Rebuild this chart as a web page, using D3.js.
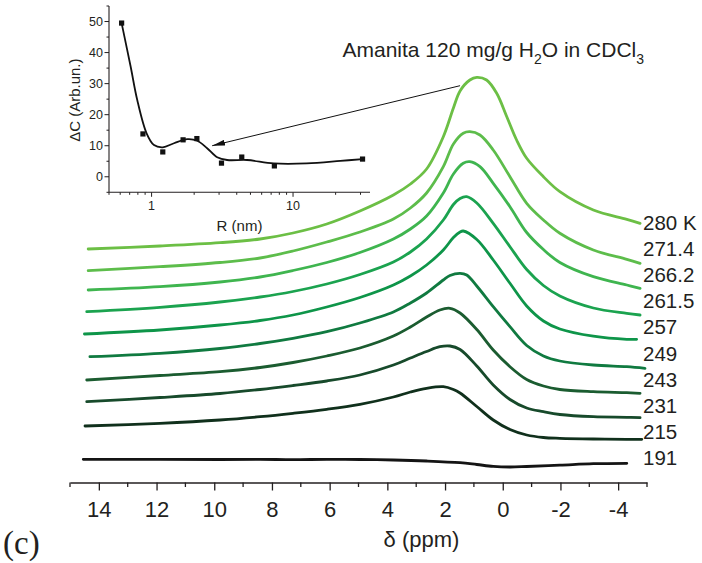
<!DOCTYPE html>
<html>
<head>
<meta charset="utf-8">
<script src="https://cdn.jsdelivr.net/npm/d3@7"></script>
<style>
  html, body { margin: 0; padding: 0; background: #fff; }
  svg { display: block; }
  text { font-family: "Liberation Sans", Arial, Helvetica, sans-serif; fill: #231f20; }
</style>
</head>
<body>
<svg id="chart" width="702" height="563"></svg>
<script>
// ---------------- DATA ----------------
const temperatures = ["280 K", "271.4", "266.2", "261.5", "257", "249", "243", "231", "215", "191"];
const lineColors = ["#6cbf45", "#5dbd4b", "#3fb54f", "#1ba34f", "#0e9549", "#107a40", "#1b5c30", "#174a2b", "#10301c", "#141414"];

// Spectra: [chemical shift (ppm), stacked intensity (arb.)]
const s280 = [[14.37,236],[11.88,239],[9.80,242.3],[8.41,246],[7.27,252],[6.10,261],[4.95,274],[3.79,290],[3.2,301],[2.64,316],[2.06,348.3],[1.71,377],[1.48,394],[1.14,405],[0.90,407.7],[0.56,405],[0.21,391.7],[-0.14,368.3],[-0.48,345],[-0.83,326.7],[-1.41,308.3],[-1.98,293.3],[-3.14,275],[-4.30,265.7],[-4.76,261.7]];
const s271 = [[14.37,214.3],[11.88,218.3],[9.80,222.5],[8.41,227],[7.27,234],[6.10,243],[4.95,253],[3.79,266],[3.2,277],[2.64,292],[2.06,318.3],[1.71,341],[1.37,351.7],[1.14,353.3],[0.79,350],[0.33,335],[-0.25,308.3],[-0.83,281.7],[-1.41,265],[-1.98,251.7],[-3.14,235],[-4.30,225.7],[-4.76,221.7]];
const s266 = [[14.37,195],[11.88,198.3],[9.80,203],[8.41,208],[7.27,214.5],[6.10,222.5],[4.95,232.5],[3.79,246],[3.2,256],[2.64,269],[2.06,292],[1.71,311],[1.37,321.7],[1.14,323.3],[0.79,318.3],[0.33,301.7],[-0.25,278.3],[-0.83,252.5],[-1.41,235.5],[-1.98,222.5],[-3.14,208.3],[-4.30,200],[-4.76,196.7]];
const s261 = [[14.42,173.3],[11.88,177.7],[9.80,183],[8.41,188],[7.27,193.5],[6.10,201],[4.95,210.5],[3.79,223],[3.2,233],[2.64,246],[2.06,265],[1.71,280.5],[1.48,286.5],[1.25,288.3],[0.90,282],[0.33,261.7],[-0.25,238.3],[-0.83,215.5],[-1.41,199.5],[-1.98,189],[-3.14,177],[-4.30,171.7],[-4.76,170]];
const s257 = [[14.50,151],[11.88,155],[9.80,160],[8.41,164.5],[7.27,170],[6.10,178],[4.95,187.5],[3.79,200],[3.2,209],[2.64,220],[2.06,235],[1.71,247.5],[1.48,253],[1.37,254],[0.90,245.5],[0.33,225],[-0.25,201.7],[-0.83,179],[-1.41,164],[-1.98,156],[-3.14,148.8],[-4.30,145.7],[-4.64,145.7]];
const s249 = [[14.31,128.3],[11.88,131.7],[9.80,136.5],[8.41,141.5],[7.27,146.7],[6.10,153.3],[4.95,162],[3.79,173],[3.2,182],[2.64,192],[2.06,205],[1.83,209.5],[1.48,211.7],[1.25,210],[0.90,199],[0.33,178.3],[-0.25,158.3],[-0.83,139.5],[-1.41,129],[-1.98,124],[-3.14,120],[-4.30,118.3],[-4.93,116.7]];
const s243 = [[14.42,105],[11.88,109.5],[9.80,113.3],[8.41,117.5],[7.27,122.5],[6.10,129],[4.95,137],[3.79,149],[3.2,158],[2.64,168],[2.18,175],[1.83,176.7],[1.48,172],[0.90,155.5],[0.33,135],[-0.25,118.3],[-0.83,105.5],[-1.41,99],[-1.98,95.5],[-3.14,93.3],[-4.30,92.3],[-4.76,91.7]];
const s231 = [[14.42,83.3],[11.88,87.5],[9.80,91.5],[8.41,95.5],[7.27,99.5],[6.10,104],[4.95,110],[3.79,120],[3.2,127],[2.64,133.5],[2.18,138.3],[1.83,139],[1.48,135.5],[0.90,119],[0.33,100],[-0.25,85.5],[-0.83,77],[-1.41,73.3],[-1.98,70.5],[-3.14,68.3],[-4.30,67.7],[-4.76,67.3]];
const s215 = [[14.48,59],[11.88,61.7],[9.80,65],[8.41,68.3],[7.27,71.7],[6.10,75.7],[4.95,80.7],[3.79,88],[3.2,93],[2.64,96.7],[2.06,98.3],[1.71,95.5],[1.48,92],[0.90,78.5],[0.33,65],[-0.25,55.5],[-0.83,50],[-1.41,47.5],[-1.98,46.7],[-3.14,46],[-4.30,45.7],[-4.82,45.7]];
const s191 = [[14.54,25.7],[11.88,25.7],[9.80,25.5],[8.41,25.7],[7.27,25.3],[6.10,25.7],[4.95,25.5],[3.79,25],[2.64,24],[1.48,22.3],[0.90,20.5],[0.33,18.6],[-0.25,18],[-0.83,18.5],[-1.98,19.8],[-3.14,21.3],[-4.30,21.7]];
const spectra = [s280, s271, s266, s261, s257, s249, s243, s231, s215, s191];

const ppmTickLabels = [14, 12, 10, 8, 6, 4, 2, 0, -2, -4];

// Inset: ΔC vs R
const insetR = [0.614, 0.869, 1.20, 1.67, 2.09, 3.12, 4.34, 7.38, 31];
const insetDC = [49.5, 13.8, 8.0, 11.9, 12.3, 4.4, 6.35, 3.5, 5.7];
const fitR = [0.614, 0.711, 0.792, 0.922, 1.04, 1.2, 1.44, 1.79, 2.1, 2.47, 2.91, 3.42, 4.73, 7.3, 12.5, 21.6, 31];
const fitDC = [49.5, 35.5, 24.7, 14, 10.2, 9.5, 10.8, 12.1, 11.6, 9.2, 6.3, 5.4, 5.4, 4.3, 4.3, 5.1, 5.7];
const insetYTicks = [0, 10, 20, 30, 40, 50];
const insetXTicks = [1, 10];

// Arrow: from 280 K peak (main, ppm/intensity) to inset (R, ΔC)
const arrowFrom = { ppm: 1.48, v: 399.3 };
const arrowTo = { R: 2.68, dc: 10 };

// ---------------- CHART ----------------
const svg = d3.select("#chart");

const x = d3.scaleLinear().domain([15, -5]).range([70, 647]);
const y = d3.scaleLinear().domain([0, 460]).range([485, 25]);
const axisY = 482.5;

const line = d3.line()
  .x(d => x(d[0]))
  .y(d => y(d[1]))
  .curve(d3.curveCatmullRom.alpha(0.5));

svg.append("g").selectAll("path")
  .data(spectra)
  .join("path")
  .attr("d", d => line(d))
  .attr("fill", "none")
  .attr("stroke", (d, i) => lineColors[i])
  .attr("stroke-width", 2.8)
  .attr("stroke-linejoin", "round")
  .attr("stroke-linecap", "round");

// main x-axis
const gx = svg.append("g").attr("transform", `translate(0,${axisY})`);
gx.call(d3.axisBottom(x).tickValues(ppmTickLabels).tickSize(8).tickSizeOuter(0).tickFormat(d3.format("d")));
gx.select(".domain").attr("stroke", "#231f20").attr("stroke-width", 1.3);
gx.selectAll(".tick line").attr("stroke", "#231f20").attr("stroke-width", 1.3);
gx.selectAll(".tick text")
  .attr("y", 34.5).attr("dy", 0)
  .style("font-size", "22px")
  .style("font-family", "'Liberation Sans', Arial, sans-serif")
  .attr("fill", "#231f20")
  .text(d => d < 0 ? "-" + Math.abs(d) : d);
const minorPpm = d3.range(-5, 16, 2);
gx.selectAll(".minor").data(minorPpm).join("line")
  .attr("x1", d => x(d)).attr("x2", d => x(d))
  .attr("y1", 0).attr("y2", 4.5)
  .attr("stroke", "#231f20").attr("stroke-width", 1.3);

svg.append("text")
  .attr("x", 421.5).attr("y", 547)
  .attr("text-anchor", "middle")
  .style("font-size", "22px")
  .text("δ (ppm)");

svg.append("text")
  .attr("x", 3).attr("y", 554)
  .style("font-family", "'Liberation Serif', 'Times New Roman', serif")
  .style("font-size", "33px")
  .text("(c)");

// temperature labels
svg.append("g").selectAll("text")
  .data(temperatures)
  .join("text")
  .attr("x", 643)
  .attr("y", (d, i) => 230 + i * 26.1)
  .style("font-size", "20.5px")
  .text(d => d);

// title
const title = svg.append("text")
  .attr("x", 342.5).attr("y", 56.5)
  .style("font-size", "21px");
title.append("tspan").text("Amanita 120 mg/g H");
title.append("tspan").attr("dy", 7).style("font-size", "14px").text("2");
title.append("tspan").attr("dy", -7).text("O in CDCl");
title.append("tspan").attr("dy", 7).style("font-size", "14px").text("3");

// ---------------- INSET ----------------
const xi = d3.scaleLog().domain([0.5, 35]).range([109, 370]);
const yi = d3.scaleLinear().domain([-5, 55]).range([192.3, 6]);
const ink = "#231f20";

const gxi = svg.append("g").attr("transform", `translate(0,${yi(-5)})`);
gxi.append("line").attr("x1", xi(0.5)).attr("x2", xi(35)).attr("stroke", ink).attr("stroke-width", 1.1);
const minorR = [0.5,0.6,0.7,0.8,0.9,2,3,4,5,6,7,8,9,20,30];
gxi.selectAll(".mn").data(minorR).join("line")
  .attr("x1", d => xi(d)).attr("x2", d => xi(d)).attr("y1", 0).attr("y2", 2.5)
  .attr("stroke", ink).attr("stroke-width", 1);
gxi.selectAll(".mj").data(insetXTicks).join("line")
  .attr("x1", d => xi(d)).attr("x2", d => xi(d)).attr("y1", 0).attr("y2", 4.5)
  .attr("stroke", ink).attr("stroke-width", 1);
gxi.selectAll(".lb").data(insetXTicks).join("text")
  .attr("x", d => xi(d)).attr("y", 17.5)
  .attr("text-anchor", "middle")
  .style("font-size", "12.5px")
  .text(d => d);

const gyi = svg.append("g").attr("transform", `translate(${xi(0.5)},0)`);
gyi.append("line").attr("y1", yi(-5)).attr("y2", yi(55)).attr("stroke", ink).attr("stroke-width", 1.1);
gyi.selectAll(".mn").data(d3.range(-5, 56, 10)).join("line")
  .attr("y1", d => yi(d)).attr("y2", d => yi(d)).attr("x1", 0).attr("x2", -2.5)
  .attr("stroke", ink).attr("stroke-width", 1);
gyi.selectAll(".mj").data(insetYTicks).join("line")
  .attr("y1", d => yi(d)).attr("y2", d => yi(d)).attr("x1", 0).attr("x2", -4.5)
  .attr("stroke", ink).attr("stroke-width", 1);
gyi.selectAll(".lb").data(insetYTicks).join("text")
  .attr("x", -6).attr("y", d => yi(d)).attr("dy", "0.36em")
  .attr("text-anchor", "end")
  .style("font-size", "12.5px")
  .text(d => d);

svg.append("text")
  .attr("transform", `translate(80,${(yi(-5) + yi(55)) / 2 + 1}) rotate(-90)`)
  .attr("text-anchor", "middle")
  .style("font-size", "15px")
  .text("ΔC (Arb.un.)");

svg.append("text")
  .attr("x", (xi(0.5) + xi(35)) / 2).attr("y", 230.5)
  .attr("text-anchor", "middle")
  .style("font-size", "15px")
  .text("R (nm)");

const fitLine = d3.line()
  .x((d, i) => xi(fitR[i]))
  .y((d, i) => yi(fitDC[i]))
  .curve(d3.curveCatmullRom.alpha(0.5));
svg.append("path")
  .attr("d", fitLine(fitR))
  .attr("fill", "none").attr("stroke", "#111").attr("stroke-width", 1.8);

svg.append("g").selectAll("rect")
  .data(insetR)
  .join("rect")
  .attr("x", (d) => xi(d) - 2.6)
  .attr("y", (d, i) => yi(insetDC[i]) - 2.6)
  .attr("width", 5.2).attr("height", 5.2)
  .attr("fill", "#111");

// arrow
const defs = svg.append("defs");
defs.append("marker")
  .attr("id", "ah").attr("viewBox", "0 0 13 6")
  .attr("refX", 13).attr("refY", 3)
  .attr("markerWidth", 13).attr("markerHeight", 6)
  .attr("markerUnits", "userSpaceOnUse")
  .attr("orient", "auto")
  .append("path").attr("d", "M0,0 L13,3 L0,6 Z").attr("fill", "#111");
svg.append("line")
  .attr("x1", x(arrowFrom.ppm)).attr("y1", y(arrowFrom.v))
  .attr("x2", xi(arrowTo.R)).attr("y2", yi(arrowTo.dc))
  .attr("stroke", "#111").attr("stroke-width", 1)
  .attr("marker-end", "url(#ah)");
</script>
</body>
</html>
